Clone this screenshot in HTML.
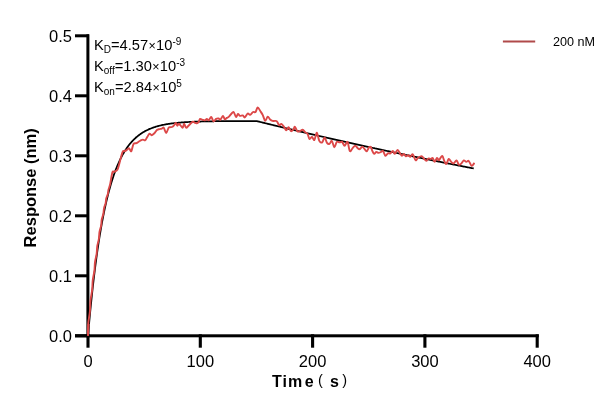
<!DOCTYPE html>
<html><head><meta charset="utf-8"><style>
html,body{margin:0;padding:0;background:#fff;width:616px;height:412px;overflow:hidden}
svg{display:block;will-change:transform}
text{font-family:"Liberation Sans",sans-serif;fill:#000}
</style></head><body>
<svg width="616" height="412" viewBox="0 0 616 412">
<rect width="616" height="412" fill="#fff"/>
<g fill="#000">
<rect x="86.4" y="34.3" width="3" height="303"/>
<rect x="75" y="334.3" width="463.8" height="3"/>
<rect x="75" y="334.30" width="14" height="3"/>
<rect x="75" y="274.30" width="14" height="3"/>
<rect x="75" y="214.30" width="14" height="3"/>
<rect x="75" y="154.30" width="14" height="3"/>
<rect x="75" y="94.30" width="14" height="3"/>
<rect x="75" y="34.30" width="14" height="3"/>
<rect x="86.45" y="334.3" width="3.1" height="13.4"/>
<rect x="198.75" y="334.3" width="3.1" height="13.4"/>
<rect x="311.05" y="334.3" width="3.1" height="13.4"/>
<rect x="423.35" y="334.3" width="3.1" height="13.4"/>
<rect x="535.65" y="334.3" width="3.1" height="13.4"/>
</g>
<g font-size="16.5" text-anchor="end">
<text x="72.0" y="341.70">0.0</text>
<text x="72.0" y="281.70">0.1</text>
<text x="72.0" y="221.70">0.2</text>
<text x="72.0" y="161.70">0.3</text>
<text x="72.0" y="101.70">0.4</text>
<text x="72.0" y="41.70">0.5</text>
</g>
<g font-size="16.5" text-anchor="middle">
<text x="88.00" y="366.9">0</text>
<text x="200.30" y="366.9">100</text>
<text x="312.60" y="366.9">200</text>
<text x="424.90" y="366.9">300</text>
<text x="537.20" y="366.9">400</text>
</g>
<text transform="translate(35.9,187.8) rotate(-90)" text-anchor="middle" font-size="16.5" font-weight="bold">Response (nm)</text>
<g font-size="16" font-weight="bold"><text x="272" y="386.8">T</text><text x="282.6" y="386.8">i</text><text x="288" y="386.8">m</text><text x="304.8" y="386.8">e</text><text x="330" y="386.8">s</text></g>
<g font-size="14.5"><text x="317.9" y="384.9">(</text><text x="342.3" y="384.9">)</text></g>
<g font-size="14.7">
<text x="94" y="49.6">K<tspan font-size="10" dy="3.6">D</tspan><tspan dy="-3.6">=4.57</tspan><tspan font-size="12.5" dx="0.3">×</tspan><tspan dx="0.3">10</tspan><tspan font-size="10" dy="-4.6">-9</tspan></text>
<text x="94" y="70.8">K<tspan font-size="10" dy="3.6">off</tspan><tspan dy="-3.6">=1.30</tspan><tspan font-size="12.5" dx="0.3">×</tspan><tspan dx="0.3">10</tspan><tspan font-size="10" dy="-4.6">-3</tspan></text>
<text x="94" y="91.7">K<tspan font-size="10" dy="3.6">on</tspan><tspan dy="-3.6">=2.84</tspan><tspan font-size="12.5" dx="0.3">×</tspan><tspan dx="0.3">10</tspan><tspan font-size="10" dy="-4.6">5</tspan></text>
</g>
<line x1="502.9" y1="41.6" x2="535.2" y2="41.6" stroke="#b04a4a" stroke-width="2"/>
<text x="553" y="45.9" font-size="12.6">200 nM</text>
<polyline points="88.00,335.80 88.56,329.45 89.12,323.29 89.68,317.31 90.25,311.51 90.81,305.88 91.37,300.42 91.93,295.11 92.49,289.97 93.05,284.97 93.61,280.13 94.18,275.42 94.74,270.86 95.30,266.43 95.86,262.13 96.42,257.96 96.98,253.91 97.55,249.99 98.11,246.17 98.67,242.47 99.23,238.88 99.79,235.40 100.35,232.02 100.91,228.74 101.48,225.55 102.04,222.46 102.60,219.47 103.16,216.56 103.72,213.73 104.28,210.99 104.84,208.33 105.41,205.75 105.97,203.25 106.53,200.81 107.09,198.46 107.65,196.17 108.21,193.95 108.78,191.79 109.34,189.70 109.90,187.67 110.46,185.70 111.02,183.78 111.58,181.93 112.14,180.13 112.71,178.38 113.27,176.68 113.83,175.04 114.39,173.44 114.95,171.89 115.51,170.39 116.08,168.93 116.64,167.51 117.20,166.14 117.76,164.80 118.32,163.51 118.88,162.25 119.44,161.03 120.01,159.85 120.57,158.70 121.13,157.59 121.69,156.51 122.25,155.46 122.81,154.44 123.37,153.45 123.94,152.49 124.50,151.56 125.06,150.66 125.62,149.78 126.18,148.93 126.74,148.10 127.31,147.30 127.87,146.53 128.43,145.77 128.99,145.04 129.55,144.33 130.11,143.64 130.67,142.97 131.24,142.32 131.80,141.69 132.36,141.08 132.92,140.49 133.48,139.91 134.04,139.35 134.60,138.81 135.17,138.28 135.73,137.77 136.29,137.28 136.85,136.80 137.41,136.33 137.97,135.88 138.53,135.44 139.10,135.01 139.66,134.60 140.22,134.19 140.78,133.80 141.34,133.42 141.90,133.06 142.47,132.70 143.03,132.36 143.59,132.02 144.15,131.69 144.71,131.38 145.27,131.07 145.83,130.77 146.40,130.48 146.96,130.20 147.52,129.93 148.08,129.67 148.64,129.41 149.20,129.16 149.76,128.92 150.33,128.69 150.89,128.46 151.45,128.24 152.01,128.03 152.57,127.82 153.13,127.62 153.70,127.42 154.26,127.23 154.82,127.05 155.38,126.87 155.94,126.70 156.50,126.53 157.06,126.36 157.63,126.21 158.19,126.05 158.75,125.90 159.31,125.76 159.87,125.62 160.43,125.48 161.00,125.35 161.56,125.22 162.12,125.09 162.68,124.97 163.24,124.86 163.80,124.74 164.36,124.63 164.93,124.52 165.49,124.42 166.05,124.32 166.61,124.22 167.17,124.13 167.73,124.03 168.29,123.94 168.86,123.86 169.42,123.77 169.98,123.69 170.54,123.61 171.10,123.53 171.66,123.46 172.22,123.39 172.79,123.32 173.35,123.25 173.91,123.18 174.47,123.12 175.03,123.05 175.59,122.99 176.16,122.93 176.72,122.88 177.28,122.82 177.84,122.77 178.40,122.72 178.96,122.66 179.52,122.62 180.09,122.57 180.65,122.52 181.21,122.48 181.77,122.43 182.33,122.39 182.89,122.35 183.45,122.31 184.02,122.27 184.58,122.23 185.14,122.20 185.70,122.16 186.26,122.13 186.82,122.09 187.39,122.06 187.95,122.03 188.51,122.00 189.07,121.97 189.63,121.94 190.19,121.91 190.75,121.89 191.32,121.86 191.88,121.84 192.44,121.81 193.00,121.79 193.56,121.76 194.12,121.74 194.69,121.72 195.25,121.70 195.81,121.68 196.37,121.66 196.93,121.64 197.49,121.62 198.05,121.60 198.62,121.58 199.18,121.57 199.74,121.55 200.30,121.53 200.86,121.52 201.42,121.50 201.98,121.49 202.55,121.47 203.11,121.46 203.67,121.44 204.23,121.43 204.79,121.42 205.35,121.41 205.92,121.39 206.48,121.38 207.04,121.37 207.60,121.36 208.16,121.35 208.72,121.34 209.28,121.33 209.85,121.32 210.41,121.31 210.97,121.30 211.53,121.29 212.09,121.28 212.65,121.28 213.21,121.27 213.78,121.26 214.34,121.25 214.90,121.24 215.46,121.24 216.02,121.23 216.58,121.22 217.15,121.22 217.71,121.21 218.27,121.20 218.83,121.20 219.39,121.19 219.95,121.19 220.51,121.18 221.08,121.18 221.64,121.17 222.20,121.17 222.76,121.16 223.32,121.16 223.88,121.15 224.44,121.15 225.01,121.14 225.57,121.14 226.13,121.13 226.69,121.13 227.25,121.13 227.81,121.12 228.38,121.12 228.94,121.12 229.50,121.11 230.06,121.11 230.62,121.11 231.18,121.10 231.74,121.10 232.31,121.10 232.87,121.09 233.43,121.09 233.99,121.09 234.55,121.09 235.11,121.08 235.67,121.08 236.24,121.08 236.80,121.08 237.36,121.07 237.92,121.07 238.48,121.07 239.04,121.07 239.60,121.07 240.17,121.06 240.73,121.06 241.29,121.06 241.85,121.06 242.41,121.06 242.97,121.05 243.54,121.05 244.10,121.05 244.66,121.05 245.22,121.05 245.78,121.05 246.34,121.05 246.90,121.04 247.47,121.04 248.03,121.04 248.59,121.04 249.15,121.04 249.71,121.04 250.27,121.04 250.84,121.04 251.40,121.03 251.96,121.03 252.52,121.03 253.08,121.03 253.64,121.03 254.20,121.03 254.77,121.03 255.33,121.03 255.89,121.03 256.45,121.03 257.01,121.16 257.57,121.30 258.13,121.44 258.70,121.58 259.26,121.72 259.82,121.86 260.38,121.99 260.94,122.13 261.50,122.27 262.06,122.41 262.63,122.54 263.19,122.68 263.75,122.82 264.31,122.96 264.87,123.09 265.43,123.23 266.00,123.37 266.56,123.51 267.12,123.64 267.68,123.78 268.24,123.92 268.80,124.05 269.36,124.19 269.93,124.33 270.49,124.46 271.05,124.60 271.61,124.73 272.17,124.87 272.73,125.01 273.29,125.14 273.86,125.28 274.42,125.41 274.98,125.55 275.54,125.69 276.10,125.82 276.66,125.96 277.23,126.09 277.79,126.23 278.35,126.36 278.91,126.50 279.47,126.63 280.03,126.77 280.59,126.90 281.16,127.04 281.72,127.17 282.28,127.31 282.84,127.44 283.40,127.57 283.96,127.71 284.52,127.84 285.09,127.98 285.65,128.11 286.21,128.24 286.77,128.38 287.33,128.51 287.89,128.65 288.46,128.78 289.02,128.91 289.58,129.05 290.14,129.18 290.70,129.31 291.26,129.45 291.82,129.58 292.39,129.71 292.95,129.84 293.51,129.98 294.07,130.11 294.63,130.24 295.19,130.38 295.75,130.51 296.32,130.64 296.88,130.77 297.44,130.90 298.00,131.04 298.56,131.17 299.12,131.30 299.69,131.43 300.25,131.56 300.81,131.70 301.37,131.83 301.93,131.96 302.49,132.09 303.05,132.22 303.62,132.35 304.18,132.48 304.74,132.62 305.30,132.75 305.86,132.88 306.42,133.01 306.99,133.14 307.55,133.27 308.11,133.40 308.67,133.53 309.23,133.66 309.79,133.79 310.35,133.92 310.92,134.05 311.48,134.18 312.04,134.31 312.60,134.44 313.16,134.57 313.72,134.70 314.28,134.83 314.85,134.96 315.41,135.09 315.97,135.22 316.53,135.35 317.09,135.48 317.65,135.61 318.22,135.74 318.78,135.87 319.34,135.99 319.90,136.12 320.46,136.25 321.02,136.38 321.58,136.51 322.15,136.64 322.71,136.77 323.27,136.89 323.83,137.02 324.39,137.15 324.95,137.28 325.51,137.41 326.08,137.54 326.64,137.66 327.20,137.79 327.76,137.92 328.32,138.05 328.88,138.17 329.44,138.30 330.01,138.43 330.57,138.56 331.13,138.68 331.69,138.81 332.25,138.94 332.81,139.06 333.38,139.19 333.94,139.32 334.50,139.44 335.06,139.57 335.62,139.70 336.18,139.82 336.74,139.95 337.31,140.08 337.87,140.20 338.43,140.33 338.99,140.45 339.55,140.58 340.11,140.71 340.68,140.83 341.24,140.96 341.80,141.08 342.36,141.21 342.92,141.33 343.48,141.46 344.04,141.59 344.61,141.71 345.17,141.84 345.73,141.96 346.29,142.09 346.85,142.21 347.41,142.34 347.97,142.46 348.54,142.58 349.10,142.71 349.66,142.83 350.22,142.96 350.78,143.08 351.34,143.21 351.90,143.33 352.47,143.46 353.03,143.58 353.59,143.70 354.15,143.83 354.71,143.95 355.27,144.07 355.84,144.20 356.40,144.32 356.96,144.45 357.52,144.57 358.08,144.69 358.64,144.82 359.20,144.94 359.77,145.06 360.33,145.18 360.89,145.31 361.45,145.43 362.01,145.55 362.57,145.68 363.13,145.80 363.70,145.92 364.26,146.04 364.82,146.17 365.38,146.29 365.94,146.41 366.50,146.53 367.07,146.65 367.63,146.78 368.19,146.90 368.75,147.02 369.31,147.14 369.87,147.26 370.43,147.38 371.00,147.51 371.56,147.63 372.12,147.75 372.68,147.87 373.24,147.99 373.80,148.11 374.37,148.23 374.93,148.35 375.49,148.48 376.05,148.60 376.61,148.72 377.17,148.84 377.73,148.96 378.30,149.08 378.86,149.20 379.42,149.32 379.98,149.44 380.54,149.56 381.10,149.68 381.66,149.80 382.23,149.92 382.79,150.04 383.35,150.16 383.91,150.28 384.47,150.40 385.03,150.52 385.60,150.64 386.16,150.76 386.72,150.88 387.28,151.00 387.84,151.11 388.40,151.23 388.96,151.35 389.53,151.47 390.09,151.59 390.65,151.71 391.21,151.83 391.77,151.95 392.33,152.07 392.89,152.18 393.46,152.30 394.02,152.42 394.58,152.54 395.14,152.66 395.70,152.77 396.26,152.89 396.82,153.01 397.39,153.13 397.95,153.25 398.51,153.36 399.07,153.48 399.63,153.60 400.19,153.72 400.76,153.83 401.32,153.95 401.88,154.07 402.44,154.19 403.00,154.30 403.56,154.42 404.12,154.54 404.69,154.65 405.25,154.77 405.81,154.89 406.37,155.00 406.93,155.12 407.49,155.24 408.06,155.35 408.62,155.47 409.18,155.59 409.74,155.70 410.30,155.82 410.86,155.93 411.42,156.05 411.99,156.17 412.55,156.28 413.11,156.40 413.67,156.51 414.23,156.63 414.79,156.74 415.35,156.86 415.92,156.98 416.48,157.09 417.04,157.21 417.60,157.32 418.16,157.44 418.72,157.55 419.29,157.67 419.85,157.78 420.41,157.90 420.97,158.01 421.53,158.13 422.09,158.24 422.65,158.35 423.22,158.47 423.78,158.58 424.34,158.70 424.90,158.81 425.46,158.93 426.02,159.04 426.58,159.15 427.15,159.27 427.71,159.38 428.27,159.50 428.83,159.61 429.39,159.72 429.95,159.84 430.51,159.95 431.08,160.06 431.64,160.18 432.20,160.29 432.76,160.40 433.32,160.52 433.88,160.63 434.45,160.74 435.01,160.85 435.57,160.97 436.13,161.08 436.69,161.19 437.25,161.31 437.81,161.42 438.38,161.53 438.94,161.64 439.50,161.75 440.06,161.87 440.62,161.98 441.18,162.09 441.75,162.20 442.31,162.32 442.87,162.43 443.43,162.54 443.99,162.65 444.55,162.76 445.11,162.87 445.68,162.99 446.24,163.10 446.80,163.21 447.36,163.32 447.92,163.43 448.48,163.54 449.04,163.65 449.61,163.76 450.17,163.87 450.73,163.99 451.29,164.10 451.85,164.21 452.41,164.32 452.98,164.43 453.54,164.54 454.10,164.65 454.66,164.76 455.22,164.87 455.78,164.98 456.34,165.09 456.91,165.20 457.47,165.31 458.03,165.42 458.59,165.53 459.15,165.64 459.71,165.75 460.27,165.86 460.84,165.97 461.40,166.08 461.96,166.19 462.52,166.30 463.08,166.41 463.64,166.52 464.20,166.62 464.77,166.73 465.33,166.84 465.89,166.95 466.45,167.06 467.01,167.17 467.57,167.28 468.14,167.39 468.70,167.50 469.26,167.60 469.82,167.71 470.38,167.82 470.94,167.93 471.50,168.04 472.07,168.15 472.63,168.25 473.19,168.36 473.75,168.47" fill="none" stroke="#000" stroke-width="1.75" stroke-linejoin="round"/>
<path d="M88.00,335.80 C88.05,333.72 87.95,327.34 88.27,323.29 C88.59,319.24 89.53,315.32 89.90,311.51 C90.28,307.70 90.15,304.01 90.52,300.42 C90.89,296.83 91.77,293.35 92.14,289.97 C92.52,286.59 92.39,283.31 92.77,280.13 C93.14,276.94 94.02,273.86 94.39,270.86 C94.76,267.86 94.64,264.95 95.01,262.13 C95.38,259.31 96.25,256.57 96.63,253.91 C97.00,251.25 96.89,248.67 97.26,246.17 C97.64,243.66 98.51,241.24 98.88,238.88 C99.25,236.52 99.12,234.24 99.50,232.02 C99.88,229.80 100.75,227.64 101.13,225.55 C101.50,223.46 101.38,221.44 101.75,219.47 C102.12,217.50 103.00,215.59 103.37,213.73 C103.75,211.87 103.62,210.08 104.00,208.33 C104.38,206.58 105.25,204.90 105.62,203.25 C105.99,201.60 105.87,200.01 106.24,198.46 C106.61,196.91 107.48,195.41 107.86,193.95 C108.23,192.49 108.10,191.36 108.49,189.70 C108.88,188.04 109.55,186.88 110.20,184.00 C110.85,181.12 111.67,174.47 112.40,172.40 C113.13,170.33 113.75,172.08 114.60,171.60 C115.45,171.12 116.65,171.07 117.50,169.50 C118.35,167.93 118.85,165.12 119.70,162.20 C120.55,159.28 121.75,153.83 122.60,152.00 C123.45,150.17 124.07,151.57 124.80,151.20 C125.53,150.83 126.28,150.28 127.00,149.80 C127.72,149.32 128.38,148.07 129.10,148.30 C129.82,148.53 130.57,151.92 131.30,151.20 C132.03,150.48 132.65,145.33 133.50,144.00 C134.35,142.67 135.55,143.57 136.40,143.20 C137.25,142.83 137.87,142.28 138.60,141.80 C139.33,141.32 140.07,140.67 140.80,140.30 C141.53,139.93 142.27,139.60 143.00,139.60 C143.73,139.60 144.47,140.78 145.20,140.30 C145.93,139.82 146.68,137.80 147.40,136.70 C148.12,135.60 148.78,133.95 149.50,133.70 C150.22,133.45 150.85,135.32 151.70,135.20 C152.55,135.08 153.73,133.85 154.60,133.00 C155.47,132.15 156.10,130.75 156.90,130.10 C157.70,129.45 158.58,129.35 159.40,129.10 C160.22,128.85 161.08,128.83 161.80,128.60 C162.52,128.37 162.97,126.97 163.70,127.70 C164.43,128.43 165.38,133.00 166.20,133.00 C167.02,133.00 167.88,128.67 168.60,127.70 C169.32,126.73 169.85,127.37 170.50,127.20 C171.15,127.03 171.85,127.10 172.50,126.70 C173.15,126.30 173.83,125.45 174.40,124.80 C174.97,124.15 175.42,122.65 175.90,122.80 C176.38,122.95 176.82,125.53 177.30,125.70 C177.78,125.87 178.23,123.80 178.80,123.80 C179.37,123.80 180.05,125.05 180.70,125.70 C181.35,126.35 182.13,128.02 182.70,127.70 C183.27,127.38 183.53,123.80 184.10,123.80 C184.67,123.80 185.37,127.38 186.10,127.70 C186.83,128.02 187.70,126.43 188.50,125.70 C189.30,124.97 190.17,123.95 190.90,123.30 C191.63,122.65 192.25,121.88 192.90,121.80 C193.55,121.72 194.17,122.55 194.80,122.80 C195.43,123.05 196.05,123.47 196.70,123.30 C197.35,123.13 198.13,122.53 198.70,121.80 C199.27,121.07 199.48,119.23 200.10,118.90 C200.72,118.57 201.60,119.57 202.40,119.80 C203.20,120.03 204.17,120.45 204.90,120.30 C205.63,120.15 206.15,118.90 206.80,118.90 C207.45,118.90 208.07,120.63 208.80,120.30 C209.53,119.97 210.40,116.73 211.20,116.90 C212.00,117.07 212.78,120.97 213.60,121.30 C214.42,121.63 215.28,119.38 216.10,118.90 C216.92,118.42 217.78,118.25 218.50,118.40 C219.22,118.55 219.67,120.22 220.40,119.80 C221.13,119.38 222.17,115.98 222.90,115.90 C223.63,115.82 224.15,118.97 224.80,119.30 C225.45,119.63 226.15,118.30 226.80,117.90 C227.45,117.50 227.97,117.55 228.70,116.90 C229.43,116.25 230.38,114.82 231.20,114.00 C232.02,113.18 232.80,111.52 233.60,112.00 C234.40,112.48 235.27,116.57 236.00,116.90 C236.73,117.23 237.35,114.17 238.00,114.00 C238.65,113.83 239.10,115.67 239.90,115.90 C240.70,116.13 241.98,115.15 242.80,115.40 C243.62,115.65 243.98,117.72 244.80,117.40 C245.62,117.08 246.82,113.92 247.70,113.50 C248.58,113.08 249.20,115.15 250.10,114.90 C251.00,114.65 252.20,112.48 253.10,112.00 C254.00,111.52 254.73,112.75 255.50,112.00 C256.27,111.25 256.88,107.63 257.70,107.50 C258.52,107.37 259.55,109.93 260.40,111.20 C261.25,112.47 262.00,113.48 262.80,115.10 C263.60,116.72 264.38,120.65 265.20,120.90 C266.02,121.15 266.88,116.83 267.70,116.60 C268.52,116.37 269.30,118.78 270.10,119.50 C270.90,120.22 271.68,120.67 272.50,120.90 C273.32,121.13 274.27,120.82 275.00,120.90 C275.73,120.98 276.18,120.67 276.90,121.40 C277.62,122.13 278.57,124.88 279.30,125.30 C280.03,125.72 280.57,123.73 281.30,123.90 C282.03,124.07 282.88,125.25 283.70,126.30 C284.52,127.35 285.38,130.03 286.20,130.20 C287.02,130.37 287.80,127.13 288.60,127.30 C289.40,127.47 290.18,130.88 291.00,131.20 C291.82,131.52 292.85,129.93 293.50,129.20 C294.15,128.47 294.25,126.47 294.90,126.80 C295.55,127.13 296.58,130.47 297.40,131.20 C298.22,131.93 298.92,131.45 299.80,131.20 C300.68,130.95 301.82,129.55 302.70,129.70 C303.58,129.85 304.28,131.37 305.10,132.10 C305.92,132.83 306.87,132.95 307.60,134.10 C308.33,135.25 308.77,138.52 309.50,139.00 C310.23,139.48 311.18,136.83 312.00,137.00 C312.82,137.17 313.60,140.72 314.40,140.00 C315.20,139.28 315.98,132.55 316.80,132.70 C317.62,132.85 318.40,139.28 319.30,140.90 C320.20,142.52 321.32,142.97 322.20,142.40 C323.08,141.83 323.80,137.42 324.60,137.50 C325.40,137.58 326.18,141.83 327.00,142.90 C327.82,143.97 328.68,144.23 329.50,143.90 C330.32,143.57 331.10,140.33 331.90,140.90 C332.70,141.47 333.48,147.13 334.30,147.30 C335.12,147.47 335.90,142.72 336.80,141.90 C337.70,141.08 338.82,142.40 339.70,142.40 C340.58,142.40 341.28,141.33 342.10,141.90 C342.92,142.47 343.70,145.80 344.60,145.80 C345.50,145.80 346.62,141.00 347.50,141.90 C348.38,142.80 349.02,150.22 349.90,151.20 C350.78,152.18 351.90,148.70 352.80,147.80 C353.70,146.90 354.48,145.73 355.30,145.80 C356.12,145.87 356.97,147.63 357.70,148.20 C358.43,148.77 358.88,149.43 359.70,149.20 C360.52,148.97 361.47,146.47 362.60,146.80 C363.73,147.13 365.45,151.08 366.50,151.20 C367.55,151.32 368.18,148.20 368.90,147.50 C369.62,146.80 370.23,146.43 370.80,147.00 C371.37,147.57 371.73,149.75 372.30,150.90 C372.87,152.05 373.55,153.73 374.20,153.90 C374.85,154.07 375.47,152.07 376.20,151.90 C376.93,151.73 377.78,152.90 378.60,152.90 C379.42,152.90 380.37,152.23 381.10,151.90 C381.83,151.57 382.28,150.25 383.00,150.90 C383.72,151.55 384.58,155.38 385.40,155.80 C386.22,156.22 387.08,153.80 387.90,153.40 C388.72,153.00 389.48,153.82 390.30,153.40 C391.12,152.98 392.07,150.82 392.80,150.90 C393.53,150.98 393.90,154.05 394.70,153.90 C395.50,153.75 396.70,150.08 397.60,150.00 C398.50,149.92 399.37,152.43 400.10,153.40 C400.83,154.37 401.37,155.72 402.00,155.80 C402.63,155.88 403.25,153.82 403.90,153.90 C404.55,153.98 405.17,156.07 405.90,156.30 C406.63,156.53 407.57,155.22 408.30,155.30 C409.03,155.38 409.57,156.97 410.30,156.80 C411.03,156.63 411.82,153.73 412.70,154.30 C413.58,154.87 414.70,159.62 415.60,160.20 C416.50,160.78 417.12,158.48 418.10,157.80 C419.08,157.12 420.53,155.98 421.50,156.10 C422.47,156.22 423.10,157.70 423.90,158.50 C424.70,159.30 425.57,160.90 426.30,160.90 C427.03,160.90 427.57,158.82 428.30,158.50 C429.03,158.18 429.97,159.08 430.70,159.00 C431.43,158.92 432.05,157.52 432.70,158.00 C433.35,158.48 433.88,161.90 434.60,161.90 C435.32,161.90 436.27,158.25 437.00,158.00 C437.73,157.75 438.43,160.40 439.00,160.40 C439.57,160.40 439.83,158.72 440.40,158.00 C440.97,157.28 441.75,155.62 442.40,156.10 C443.05,156.58 443.65,159.60 444.30,160.90 C444.95,162.20 445.57,164.22 446.30,163.90 C447.03,163.58 447.88,159.33 448.70,159.00 C449.52,158.67 450.38,161.17 451.20,161.90 C452.02,162.63 452.72,163.65 453.60,163.40 C454.48,163.15 455.62,160.17 456.50,160.40 C457.38,160.63 458.08,164.30 458.90,164.80 C459.72,165.30 460.58,164.13 461.40,163.40 C462.22,162.67 462.98,160.65 463.80,160.40 C464.62,160.15 465.48,161.82 466.30,161.90 C467.12,161.98 467.82,160.25 468.70,160.90 C469.58,161.55 470.63,165.47 471.60,165.80 C472.57,166.13 474.02,163.38 474.50,162.90" fill="none" stroke="#dc4848" stroke-width="1.9" stroke-linejoin="round"/>
<polyline points="88,335.8 88.6,324" fill="none" stroke="#dc4848" stroke-width="1.9"/>
</svg></body></html>
